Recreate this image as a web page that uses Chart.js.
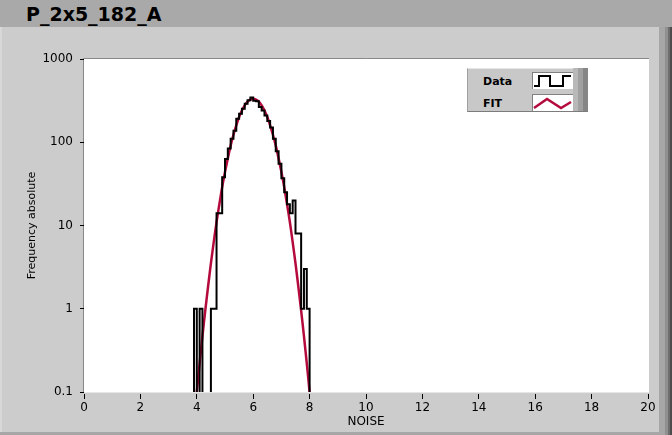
<!DOCTYPE html>
<html lang="en">
  <head>
    <meta charset="utf-8" />
    <title>P_2x5_182_A</title>
    <script src="https://cdn.jsdelivr.net/npm/chart.js"></script>
    <style>
      body { margin: 0; width: 672px; height: 435px; overflow: hidden; position: relative; background: #cccccc; font-family: "DejaVu Sans", Verdana, sans-serif; }
      .title_bar { position: absolute; left: 0; top: 0; width: 672px; height: 27px; background: #a9a9a9; }
      .title_bar span { position: absolute; left: 26px; top: 5px; font-size: 19px; line-height: 19px; font-weight: bold; color: #000; }
      .edge_left { position: absolute; left: 0; top: 27px; width: 2px; height: 405px; background: #d8d8d8; }
      .edge_right { position: absolute; left: 659px; top: 27px; width: 13px; height: 408px; background: linear-gradient(to right, #a6a6a6 0 6px, #909090 6px 9px, #6e6e6e 9px 11px, #4c4c4c 11px); }
      .edge_bottom { position: absolute; left: 0; top: 432px; width: 659px; height: 3px; background: #a6a6a6; }
      #chart { position: absolute; left: 0; top: 0; }
      .legend { position: absolute; left: 467px; top: 68px; width: 106px; height: 42px; background: #c8c8c8; border-top: 1px solid #e6e6e6; border-left: 1px solid #a0a0a0; border-bottom: 1px solid #7c7c7c; }
      .legend_strip { position: absolute; left: 573px; top: 68px; width: 15px; height: 43px; background: linear-gradient(to right, #b8b8b8 0 5px, #a0a0a0 5px 10px, #868686 10px); border-bottom: 1px solid #7c7c7c; }
      .legend_label { position: absolute; left: 15px; font-size: 11px; line-height: 13px; font-weight: bold; color: #000; }
      .legend_icon { position: absolute; left: 64px; width: 40px; height: 16px; background: #fff; border-top: 1px solid #808080; border-left: 1px solid #808080; }
    </style>
  </head>
  <body>
    <div class="title_bar"><span>P_2x5_182_A</span></div>
    <div class="edge_left"></div>
    <div class="edge_right"></div>
    <div class="edge_bottom"></div>
    <canvas id="chart" width="672" height="435"></canvas>
    <div class="legend" id="legend"></div>
    <div class="legend_strip"></div>

    <script>
      // histogram: left edge of each 0.1 wide bin and its count
      const binStart = [3.9, 4.0, 4.1, 4.2, 4.3, 4.4, 4.5, 4.6, 4.7, 4.8,
                        4.9, 5.0, 5.1, 5.2, 5.3, 5.4, 5.5, 5.6, 5.7, 5.8,
                        5.9, 6.0, 6.1, 6.2, 6.3, 6.4, 6.5, 6.6, 6.7, 6.8,
                        6.9, 7.0, 7.1, 7.2, 7.3, 7.4, 7.5, 7.6, 7.7, 7.8, 7.9];
      const binEnd = 8.0;
      const dataCounts = [1, 0, 1, 0, 0, 0, 1, 1, 14, 14,
                          38, 63, 84, 110, 137, 192, 220, 253, 290, 320,
                          345, 315, 310, 265, 240, 210, 180, 150, 110, 78,
                          55, 37, 25, 18, 14, 20, 8, 8, 1, 3, 1];

      // gaussian fit
      const fitNoise = [3.9, 4.0, 4.1, 4.2, 4.3, 4.4, 4.5, 4.6, 4.7, 4.8, 4.9,
                        5.0, 5.1, 5.2, 5.3, 5.4, 5.5, 5.6, 5.7, 5.8, 5.9,
                        6.0, 6.1, 6.2, 6.3, 6.4, 6.5, 6.6, 6.7, 6.8, 6.9,
                        7.0, 7.1, 7.2, 7.3, 7.4, 7.5, 7.6, 7.7, 7.8, 7.9, 8.0, 8.1];
      const fitValues = [0.044, 0.10, 0.22, 0.47, 0.95, 1.85, 3.5, 6.3, 11, 18, 29,
                         44, 64, 91, 123, 160, 201, 241, 277, 307, 326,
                         333, 326, 307, 277, 241, 201, 160, 123, 91, 64,
                         44, 29, 18, 11, 6.3, 3.5, 1.85, 0.95, 0.47, 0.22, 0.10, 0.044];

      const seriesNames = ['Data', 'FIT'];
      const yTicks = [0.1, 1, 10, 100, 1000];
      const yTickLabels = ['0.1', '1', '10', '100', '1000'];

      // empty bins drop off the bottom of the log axis
      const EMPTY = 0.001;
      const dataPoints = [{ x: binStart[0], y: EMPTY }];
      binStart.forEach((x, i) => {
        dataPoints.push({ x: x, y: dataCounts[i] > 0 ? dataCounts[i] : EMPTY });
      });
      dataPoints.push({ x: binEnd, y: EMPTY });

      const fitPoints = fitNoise.map((x, i) => ({ x: x, y: fitValues[i] }));

      const plotFrame = {
        id: 'plotFrame',
        beforeDraw(chart) {
          const { ctx, chartArea: a } = chart;
          ctx.save();
          ctx.fillStyle = '#ffffff';
          ctx.fillRect(a.left, a.top, a.right - a.left + 1, a.bottom - a.top + 0.5);
          ctx.strokeStyle = '#888888';
          ctx.lineWidth = 1;
          ctx.beginPath();
          ctx.moveTo(a.left - 0.5, a.bottom);
          ctx.lineTo(a.left - 0.5, a.top - 0.5);
          ctx.lineTo(a.right + 1, a.top - 0.5);
          ctx.stroke();
          ctx.restore();
        }
      };

      const tickFont = { family: 'DejaVu Sans', size: 12 };

      const chart = new Chart(document.getElementById('chart'), {
        type: 'line',
        data: {
          datasets: [
            {
              label: seriesNames[0],
              data: dataPoints,
              borderColor: '#000000',
              borderWidth: 2,
              stepped: true,
              pointRadius: 0,
              fill: false,
              clip: 0
            },
            {
              label: seriesNames[1],
              data: fitPoints,
              borderColor: '#b40a3c',
              borderWidth: 2.5,
              tension: 0.3,
              pointRadius: 0,
              fill: false,
              clip: 0
            }
          ]
        },
        options: {
          responsive: false,
          animation: false,
          events: [],
          layout: { padding: { left: 20, top: 59, right: 24, bottom: 6 } },
          plugins: {
            legend: { display: false },
            tooltip: { enabled: false }
          },
          scales: {
            x: {
              type: 'linear',
              min: 0,
              max: 20,
              ticks: { stepSize: 2, color: '#000', font: tickFont, padding: 2, maxRotation: 0 },
              grid: { drawOnChartArea: false, drawTicks: true, tickLength: 7, tickColor: '#000', tickBorderDash: [5, 100], tickBorderDashOffset: 103 },
              border: { display: false },
              title: { display: true, text: 'NOISE', color: '#000', font: { family: 'DejaVu Sans', size: 12 }, padding: 0 },
              afterFit(scale) { scale.height = 37; }
            },
            y: {
              type: 'logarithmic',
              min: 0.1,
              max: 1000,
              afterBuildTicks(scale) { scale.ticks = yTicks.map(v => ({ value: v })); },
              ticks: {
                color: '#000',
                font: tickFont,
                padding: 4,
                callback: (v) => yTickLabels[yTicks.indexOf(v)]
              },
              grid: { drawOnChartArea: false, drawTicks: true, tickLength: 7, tickColor: '#000', tickBorderDash: [4, 100], tickBorderDashOffset: 101 },
              border: { display: false },
              title: { display: true, text: 'Frequency absolute', color: '#000', font: { family: 'DejaVu Sans', size: 11 }, padding: { top: 6, bottom: 0 } },
              afterFit(scale) { scale.width = 64; }
            }
          }
        },
        plugins: [plotFrame]
      });

      // legend box like the instrument panel one
      const legendIcons = [
        '<polyline points="1,13 6,13 6,3 17,3 17,13 30,13 30,3 38,3" stroke="#000" stroke-width="2" fill="none"/>',
        '<polyline points="1,13 14,4 28,13 38,7" stroke="#b40a3c" stroke-width="2.5" fill="none"/>'
      ];
      const legend = document.getElementById('legend');
      chart.data.datasets.forEach((ds, i) => {
        const top = 3 + i * 22;
        const label = document.createElement('div');
        label.className = 'legend_label';
        label.style.top = (top + 3) + 'px';
        label.textContent = ds.label;
        legend.appendChild(label);
        const icon = document.createElement('div');
        icon.className = 'legend_icon';
        icon.style.top = top + 'px';
        icon.innerHTML = '<svg width="40" height="16">' + legendIcons[i] + '</svg>';
        legend.appendChild(icon);
      });
    </script>
  </body>
</html>
